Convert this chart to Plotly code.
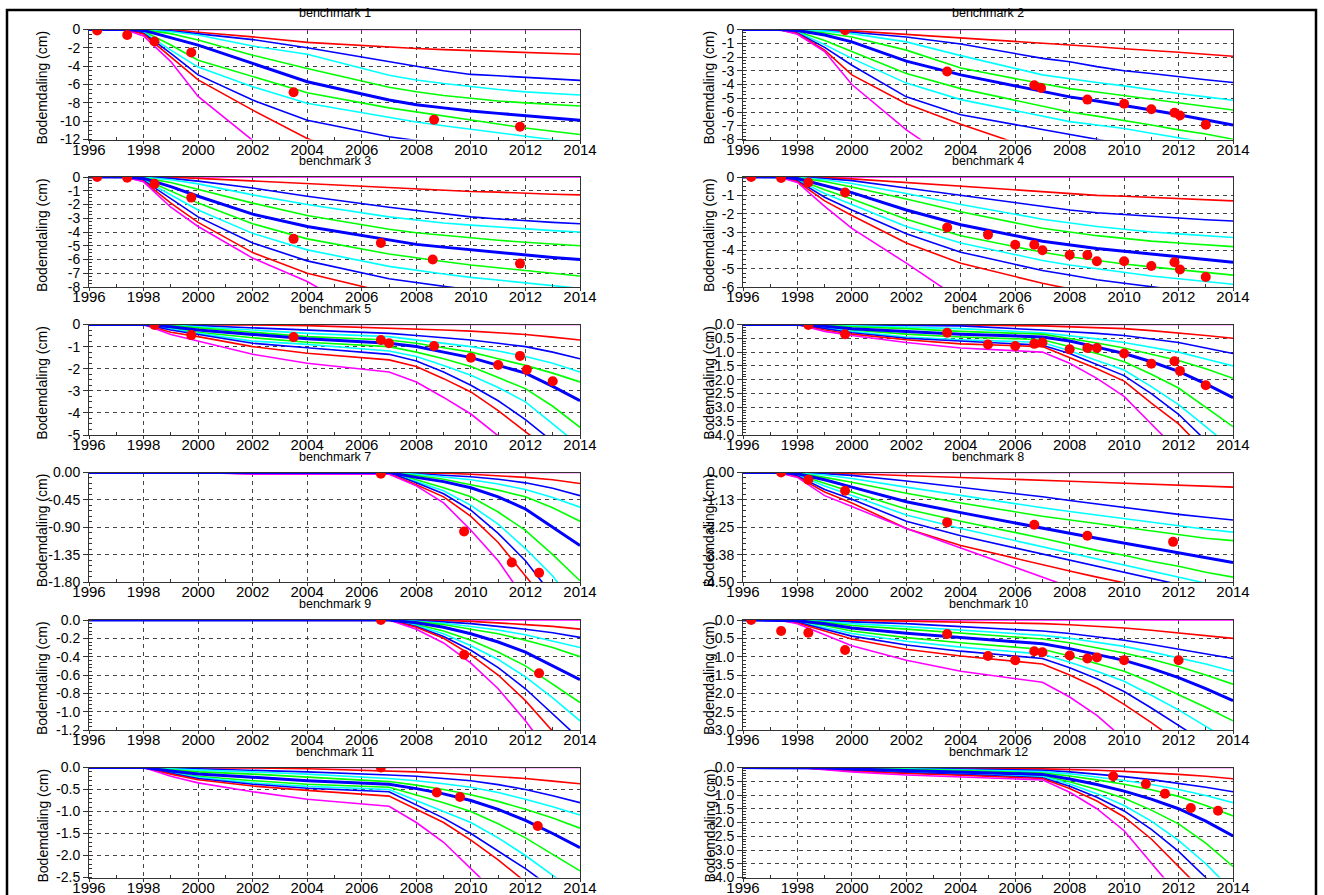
import plotly.graph_objects as go
from plotly.subplots import make_subplots
import numpy as np

# ---------------- DATA ----------------
years = [1996, 1997.3, 1998, 1999, 2000, 2002, 2004, 2007, 2008, 2009, 2010, 2011, 2012, 2013, 2014]
zero_line = [0, 0, 0, 0, 0, 0, 0, 0, 0, 0, 0, 0, 0, 0, 0]

# line order: red, blue, cyan, green, blue(thick/median), green, cyan, blue, red, magenta
bm1_lines = [
    [0, 0, 0, 0, -0.3, -0.8, -1.4, -1.95, -2.07, -2.2, -2.3, -2.4, -2.5, -2.6, -2.7],
    [0, 0, 0, -0.15, -0.45, -1.1, -2.0, -3.55, -4.0, -4.5, -4.9, -5.05, -5.2, -5.4, -5.55],
    [0, 0, -0.05, -0.25, -0.6, -1.8, -2.7, -5.0, -5.5, -5.9, -6.25, -6.55, -6.8, -7.0, -7.15],
    [0, 0, -0.05, -0.45, -1.15, -2.8, -4.25, -6.3, -6.8, -7.2, -7.5, -7.8, -8.0, -8.2, -8.35],
    [0, 0, -0.1, -0.9, -1.7, -3.7, -5.7, -7.7, -8.2, -8.55, -8.9, -9.15, -9.4, -9.65, -9.9],
    [0, 0, -0.2, -1.7, -3.35, -5.15, -6.9, -8.55, -9.0, -9.45, -9.9, -10.35, -10.75, -11.1, -11.45],
    [0, 0, -0.3, -2.25, -4.1, -6.25, -8.05, -9.6, -10.1, -10.5, -10.9, -11.3, -11.7, -12.05, -12.4],
    [0, 0, -0.4, -2.6, -4.95, -7.7, -9.9, -11.7, -12.1, -12.45, -12.8, -13.1, -13.4, -13.7, -14.0],
    [0, 0, -0.5, -3.0, -5.5, -8.8, -11.9, -14.9, -15.5, -16.0, -16.5, -17.0, -17.5, -18.0, -18.5],
    [0, 0, -0.7, -3.5, -7.3, -12.1, -16.0, -20.0, -21.0, -22.0, -23.0, -24.0, -25.0, -26.0, -27.0],
]
bm1_obs_t = [1996.3, 1997.4, 1998.4, 1999.75, 2003.5, 2008.65, 2011.8]
bm1_obs_v = [-0.1, -0.6, -1.3, -2.5, -6.85, -9.85, -10.6]

bm2_lines = [
    [0, 0, 0, -0.02, -0.1, -0.35, -0.6, -0.95, -1.1, -1.25, -1.4, -1.5, -1.65, -1.8, -1.95],
    [0, 0, 0, -0.08, -0.2, -0.55, -1.05, -2.1, -2.35, -2.7, -3.0, -3.2, -3.45, -3.65, -3.85],
    [0, 0, -0.02, -0.12, -0.3, -0.9, -1.9, -3.3, -3.6, -3.85, -4.1, -4.4, -4.65, -4.9, -5.15],
    [0, 0, -0.05, -0.25, -0.55, -1.5, -2.8, -3.95, -4.3, -4.55, -4.8, -5.05, -5.3, -5.55, -5.85],
    [0, 0, -0.08, -0.4, -0.9, -2.3, -3.3, -4.5, -4.9, -5.2, -5.5, -5.85, -6.2, -6.55, -6.95],
    [0, 0, -0.15, -0.8, -1.6, -3.2, -4.3, -5.6, -6.0, -6.3, -6.6, -6.95, -7.3, -7.6, -7.98],
    [0, 0, -0.2, -1.1, -2.1, -3.9, -5.1, -6.3, -6.7, -6.95, -7.2, -7.55, -7.9, -8.2, -8.5],
    [0, 0, -0.25, -1.3, -2.6, -4.9, -6.2, -7.3, -7.7, -8.05, -8.4, -8.7, -9.0, -9.25, -9.5],
    [0, 0, -0.3, -1.5, -3.3, -5.4, -6.9, -8.9, -9.4, -9.9, -10.4, -10.8, -11.2, -11.6, -12.0],
    [0, 0, -0.35, -1.6, -4.0, -7.3, -10.0, -13.0, -14.0, -15.0, -16.0, -17.0, -18.0, -19.0, -20.0],
]
bm2_obs_t = [1999.75, 2003.5, 2006.7, 2006.95, 2008.65, 2010.0, 2011.0, 2011.85, 2012.05, 2013.0]
bm2_obs_v = [-0.05, -3.05, -4.05, -4.25, -5.1, -5.4, -5.8, -6.05, -6.25, -6.92]

bm3_lines = [
    [0, 0, 0, -0.02, -0.1, -0.3, -0.5, -0.8, -0.9, -1.0, -1.05, -1.1, -1.2, -1.25, -1.3],
    [0, 0, 0, -0.1, -0.3, -0.8, -1.4, -2.2, -2.45, -2.7, -2.9, -3.05, -3.2, -3.3, -3.4],
    [0, 0, -0.02, -0.2, -0.5, -1.3, -2.0, -2.9, -3.15, -3.35, -3.5, -3.65, -3.8, -3.9, -4.0],
    [0, 0, -0.05, -0.4, -0.9, -1.9, -2.8, -3.8, -4.05, -4.25, -4.45, -4.6, -4.75, -4.9, -5.0],
    [0, 0, -0.1, -0.7, -1.4, -2.7, -3.6, -4.6, -4.9, -5.1, -5.3, -5.5, -5.65, -5.85, -6.0],
    [0, 0, -0.15, -1.0, -1.9, -3.4, -4.5, -5.6, -5.9, -6.15, -6.4, -6.6, -6.8, -7.0, -7.2],
    [0, 0, -0.2, -1.3, -2.4, -4.1, -5.3, -6.5, -6.8, -7.05, -7.3, -7.5, -7.7, -7.9, -8.1],
    [0, 0, -0.25, -1.6, -2.9, -4.8, -6.1, -7.4, -7.7, -7.95, -8.2, -8.45, -8.7, -8.9, -9.1],
    [0, 0, -0.3, -1.9, -3.3, -5.5, -7.0, -8.5, -8.9, -9.2, -9.5, -9.8, -10.1, -10.4, -10.7],
    [0, 0, -0.35, -2.2, -3.6, -5.9, -7.6, -11.0, -11.6, -12.2, -12.8, -13.4, -14.0, -14.6, -15.2],
]
bm3_obs_t = [1996.3, 1997.4, 1998.4, 1999.75, 2003.5, 2006.7, 2008.6, 2011.8]
bm3_obs_v = [0.0, -0.05, -0.5, -1.5, -4.5, -4.8, -6.0, -6.3]

bm4_lines = [
    [0, 0, 0, -0.02, -0.1, -0.3, -0.5, -0.8, -0.9, -1.0, -1.05, -1.12, -1.2, -1.25, -1.3],
    [0, 0, 0, -0.08, -0.2, -0.6, -1.0, -1.6, -1.8, -1.95, -2.05, -2.15, -2.25, -2.33, -2.4],
    [0, 0, -0.02, -0.15, -0.35, -0.9, -1.5, -2.3, -2.5, -2.7, -2.85, -3.0, -3.1, -3.2, -3.3],
    [0, 0, -0.04, -0.25, -0.55, -1.2, -1.9, -2.8, -3.0, -3.2, -3.35, -3.5, -3.6, -3.7, -3.8],
    [0, 0, -0.08, -0.45, -0.85, -1.8, -2.6, -3.5, -3.7, -3.9, -4.05, -4.2, -4.35, -4.5, -4.65],
    [0, 0, -0.12, -0.7, -1.2, -2.3, -3.2, -4.1, -4.35, -4.55, -4.75, -4.9, -5.05, -5.2, -5.35],
    [0, 0, -0.15, -0.9, -1.5, -2.7, -3.6, -4.55, -4.8, -5.0, -5.2, -5.4, -5.55, -5.7, -5.85],
    [0, 0, -0.2, -1.1, -1.8, -3.1, -4.1, -5.1, -5.35, -5.6, -5.8, -6.0, -6.2, -6.35, -6.5],
    [0, 0, -0.25, -1.3, -2.1, -3.6, -4.7, -5.8, -6.1, -6.35, -6.6, -6.85, -7.1, -7.3, -7.5],
    [0, 0, -0.3, -1.6, -2.8, -4.7, -6.7, -8.8, -9.4, -10.0, -10.6, -11.2, -11.8, -12.4, -13.0],
]
bm4_obs_t = [1996.3, 1997.4, 1998.4, 1999.75, 2003.5, 2005.0, 2006.0, 2006.7, 2007.0, 2008.0, 2008.65,
             2009.0, 2010.0, 2011.0, 2011.85, 2012.05, 2013.0]
bm4_obs_v = [0.0, -0.05, -0.3, -0.85, -2.75, -3.15, -3.7, -3.7, -4.0, -4.25, -4.25,
             -4.6, -4.6, -4.85, -4.65, -5.05, -5.45]

bm5_lines = [
    [0, 0, 0, 0, 0, -0.02, -0.05, -0.15, -0.2, -0.25, -0.3, -0.37, -0.45, -0.57, -0.7],
    [0, 0, 0, -0.02, -0.05, -0.15, -0.25, -0.4, -0.5, -0.6, -0.7, -0.85, -1.0, -1.25, -1.55],
    [0, 0, 0, -0.03, -0.1, -0.25, -0.4, -0.55, -0.7, -0.85, -1.0, -1.2, -1.45, -1.75, -2.15],
    [0, 0, 0, -0.05, -0.15, -0.35, -0.55, -0.7, -0.85, -1.05, -1.25, -1.55, -1.85, -2.2, -2.6],
    [0, 0, 0, -0.1, -0.25, -0.45, -0.65, -0.85, -1.0, -1.25, -1.5, -1.85, -2.2, -2.8, -3.45],
    [0, 0, 0, -0.15, -0.35, -0.6, -0.8, -1.0, -1.25, -1.55, -1.9, -2.4, -2.9, -3.7, -4.65],
    [0, 0, 0, -0.2, -0.4, -0.75, -0.9, -1.2, -1.45, -1.85, -2.3, -2.85, -3.5, -4.5, -5.5],
    [0, 0, 0, -0.25, -0.45, -0.85, -1.05, -1.35, -1.65, -2.15, -2.75, -3.45, -4.3, -5.3, -6.3],
    [0, 0, 0, -0.35, -0.55, -1.0, -1.3, -1.6, -1.9, -2.45, -3.05, -3.9, -4.8, -5.8, -6.8],
    [0, 0, 0, -0.45, -0.75, -1.35, -1.75, -2.15, -2.6, -3.3, -4.05, -5.0, -6.0, -7.0, -8.0],
]
bm5_obs_t = [1998.4, 1999.75, 2003.5, 2006.7, 2007.0, 2008.65, 2010.0, 2011.0, 2011.8, 2012.05, 2013.0]
bm5_obs_v = [-0.02, -0.48, -0.57, -0.7, -0.85, -0.97, -1.5, -1.83, -1.42, -2.05, -2.57]

bm6_lines = [
    [0, 0, 0, 0, 0, 0, -0.02, -0.05, -0.08, -0.11, -0.15, -0.22, -0.3, -0.4, -0.5],
    [0, 0, 0, 0, -0.02, -0.03, -0.05, -0.2, -0.25, -0.32, -0.4, -0.52, -0.65, -0.85, -1.05],
    [0, 0, 0, -0.02, -0.05, -0.1, -0.15, -0.3, -0.4, -0.52, -0.65, -0.82, -1.0, -1.25, -1.5],
    [0, 0, 0, -0.03, -0.08, -0.15, -0.25, -0.35, -0.5, -0.67, -0.85, -1.07, -1.3, -1.6, -1.95],
    [0, 0, 0, -0.06, -0.15, -0.25, -0.35, -0.45, -0.6, -0.82, -1.05, -1.35, -1.7, -2.15, -2.65],
    [0, 0, 0, -0.1, -0.2, -0.35, -0.45, -0.55, -0.8, -1.05, -1.35, -1.8, -2.3, -3.0, -3.7],
    [0, 0, 0, -0.12, -0.25, -0.45, -0.55, -0.65, -0.95, -1.3, -1.65, -2.25, -2.9, -3.7, -4.5],
    [0, 0, 0, -0.15, -0.3, -0.5, -0.6, -0.75, -1.05, -1.45, -1.85, -2.5, -3.25, -4.2, -5.1],
    [0, 0, 0, -0.2, -0.35, -0.55, -0.7, -0.8, -1.2, -1.6, -2.05, -2.85, -3.6, -4.6, -5.6],
    [0, 0, 0, -0.25, -0.4, -0.65, -0.85, -1.0, -1.4, -1.95, -2.6, -3.6, -4.6, -5.6, -6.6],
]
bm6_obs_t = [1998.4, 1999.75, 2003.5, 2005.0, 2006.0, 2006.7, 2007.0, 2008.0, 2008.65, 2009.0, 2010.0,
             2011.0, 2011.85, 2012.05, 2013.0]
bm6_obs_v = [-0.02, -0.35, -0.3, -0.72, -0.78, -0.7, -0.65, -0.9, -0.85, -0.85, -1.05,
             -1.42, -1.33, -1.68, -2.2]

bm7_lines = [
    [0, 0, 0, 0, 0, 0, 0, 0, 0, -0.01, -0.03, -0.05, -0.08, -0.12, -0.18],
    [0, 0, 0, 0, 0, 0, 0, 0, -0.02, -0.04, -0.07, -0.11, -0.17, -0.26, -0.38],
    [0, 0, 0, 0, 0, 0, 0, 0, -0.03, -0.07, -0.12, -0.19, -0.28, -0.41, -0.57],
    [0, 0, 0, 0, 0, 0, 0, 0, -0.05, -0.11, -0.2, -0.29, -0.4, -0.58, -0.8],
    [0, 0, 0, 0, 0, 0, 0, 0, -0.08, -0.15, -0.25, -0.4, -0.6, -0.9, -1.2],
    [0, 0, 0, 0, 0, 0, 0, 0, -0.12, -0.25, -0.4, -0.65, -0.95, -1.35, -1.78],
    [0, 0, 0, 0, 0, 0, 0, 0, -0.15, -0.3, -0.54, -0.85, -1.25, -1.7, -2.3],
    [0, 0, 0, 0, 0, 0, 0, 0, -0.17, -0.35, -0.62, -1.0, -1.45, -2.0, -2.6],
    [0, 0, 0, 0, 0, -0.02, -0.02, -0.02, -0.2, -0.4, -0.72, -1.15, -1.7, -2.2, -2.8],
    [0, 0, 0, 0, 0, -0.03, -0.03, -0.03, -0.22, -0.5, -0.95, -1.45, -2.1, -2.8, -3.5],
]
bm7_obs_t = [2006.7, 2009.75, 2011.5, 2012.5]
bm7_obs_v = [-0.02, -0.97, -1.48, -1.65]

bm8_lines = [
    [0, 0, 0, -0.02, -0.05, -0.12, -0.2, -0.32, -0.36, -0.4, -0.44, -0.48, -0.52, -0.57, -0.6],
    [0, 0, 0, -0.05, -0.12, -0.35, -0.6, -1.0, -1.15, -1.3, -1.45, -1.6, -1.72, -1.84, -1.95],
    [0, 0, -0.02, -0.1, -0.25, -0.6, -0.95, -1.45, -1.6, -1.75, -1.9, -2.05, -2.2, -2.33, -2.45],
    [0, 0, -0.03, -0.2, -0.4, -0.85, -1.25, -1.8, -1.95, -2.1, -2.25, -2.4, -2.55, -2.7, -2.8],
    [0, 0, -0.05, -0.3, -0.6, -1.2, -1.65, -2.3, -2.5, -2.7, -2.9, -3.1, -3.3, -3.5, -3.7],
    [0, 0, -0.08, -0.45, -0.8, -1.5, -2.0, -2.7, -2.95, -3.2, -3.4, -3.65, -3.85, -4.1, -4.3],
    [0, 0, -0.1, -0.55, -0.95, -1.75, -2.3, -3.05, -3.3, -3.55, -3.8, -4.05, -4.3, -4.55, -4.8],
    [0, 0, -0.14, -0.7, -1.1, -2.0, -2.6, -3.35, -3.6, -3.85, -4.1, -4.35, -4.6, -4.85, -5.1],
    [0, 0, -0.18, -0.8, -1.25, -2.3, -3.0, -3.8, -4.05, -4.3, -4.55, -4.8, -5.0, -5.2, -5.4],
    [0, 0, -0.2, -0.95, -1.4, -2.3, -3.1, -4.3, -4.7, -5.1, -5.5, -5.9, -6.3, -6.7, -7.1],
]
bm8_obs_t = [1997.4, 1998.4, 1999.75, 2003.5, 2006.7, 2008.65, 2011.8]
bm8_obs_v = [0.0, -0.3, -0.75, -2.05, -2.15, -2.6, -2.85]

bm9_lines = [
    [0, 0, 0, 0, 0, 0, 0, 0, 0, -0.005, -0.015, -0.03, -0.05, -0.07, -0.1],
    [0, 0, 0, 0, 0, 0, 0, 0, -0.01, -0.02, -0.04, -0.07, -0.1, -0.14, -0.19],
    [0, 0, 0, 0, 0, 0, 0, 0, -0.015, -0.035, -0.07, -0.11, -0.16, -0.23, -0.3],
    [0, 0, 0, 0, 0, 0, 0, 0, -0.02, -0.05, -0.1, -0.15, -0.22, -0.3, -0.4],
    [0, 0, 0, 0, 0, 0, 0, 0, -0.03, -0.08, -0.15, -0.24, -0.35, -0.5, -0.65],
    [0, 0, 0, 0, 0, 0, 0, 0, -0.05, -0.12, -0.22, -0.35, -0.5, -0.7, -0.9],
    [0, 0, 0, 0, 0, 0, 0, 0, -0.06, -0.15, -0.28, -0.43, -0.62, -0.85, -1.1],
    [0, 0, 0, 0, 0, 0, 0, 0, -0.07, -0.18, -0.33, -0.52, -0.75, -1.02, -1.3],
    [0, 0, 0, 0, 0, 0, 0, 0, -0.08, -0.2, -0.38, -0.6, -0.88, -1.2, -1.55],
    [0, 0, 0, 0, 0, 0, 0, 0, -0.1, -0.25, -0.47, -0.75, -1.1, -1.5, -1.9],
]
bm9_obs_t = [2006.7, 2009.75, 2012.5]
bm9_obs_v = [0.0, -0.38, -0.58]

bm10_lines = [
    [0, 0, 0, 0, -0.01, -0.03, -0.05, -0.1, -0.13, -0.17, -0.22, -0.28, -0.35, -0.42, -0.5],
    [0, 0, 0, -0.02, -0.05, -0.1, -0.18, -0.3, -0.37, -0.45, -0.55, -0.67, -0.8, -0.92, -1.05],
    [0, 0, 0, -0.04, -0.1, -0.18, -0.28, -0.42, -0.5, -0.6, -0.72, -0.87, -1.03, -1.2, -1.4],
    [0, 0, 0, -0.06, -0.15, -0.25, -0.36, -0.52, -0.62, -0.75, -0.9, -1.07, -1.27, -1.5, -1.75],
    [0, 0, -0.02, -0.1, -0.22, -0.36, -0.48, -0.65, -0.78, -0.93, -1.1, -1.32, -1.57, -1.87, -2.2],
    [0, 0, -0.04, -0.15, -0.3, -0.48, -0.62, -0.8, -0.98, -1.18, -1.4, -1.7, -2.03, -2.38, -2.75],
    [0, 0, -0.05, -0.2, -0.37, -0.58, -0.74, -0.93, -1.15, -1.4, -1.67, -2.05, -2.45, -2.9, -3.35],
    [0, 0, -0.06, -0.25, -0.44, -0.68, -0.85, -1.05, -1.3, -1.6, -1.95, -2.4, -2.85, -3.35, -3.85],
    [0, 0, -0.08, -0.3, -0.52, -0.8, -0.98, -1.2, -1.5, -1.85, -2.3, -2.8, -3.3, -3.85, -4.4],
    [0, 0, -0.1, -0.4, -0.7, -1.1, -1.4, -1.7, -2.1, -2.6, -3.2, -3.85, -4.5, -5.2, -5.9],
]
bm10_obs_t = [1996.3, 1997.4, 1998.4, 1999.75, 2003.5, 2005.0, 2006.0, 2006.7, 2007.0, 2008.0, 2008.65,
              2009.0, 2010.0, 2012.0]
bm10_obs_v = [0.0, -0.3, -0.35, -0.82, -0.38, -0.98, -1.1, -0.85, -0.88, -0.97, -1.05,
              -1.02, -1.1, -1.1]

bm11_lines = [
    [0, 0, 0, 0, 0, -0.01, -0.03, -0.07, -0.1, -0.13, -0.17, -0.21, -0.25, -0.31, -0.37],
    [0, 0, 0, -0.01, -0.03, -0.06, -0.1, -0.17, -0.2, -0.25, -0.3, -0.39, -0.5, -0.64, -0.8],
    [0, 0, 0, -0.03, -0.06, -0.1, -0.15, -0.25, -0.3, -0.37, -0.45, -0.57, -0.72, -0.89, -1.08],
    [0, 0, 0, -0.05, -0.1, -0.15, -0.22, -0.32, -0.4, -0.5, -0.62, -0.77, -0.95, -1.15, -1.38],
    [0, 0, 0, -0.08, -0.15, -0.22, -0.3, -0.38, -0.48, -0.6, -0.75, -0.95, -1.2, -1.5, -1.82],
    [0, 0, 0, -0.1, -0.2, -0.3, -0.38, -0.45, -0.62, -0.8, -1.0, -1.28, -1.6, -1.97, -2.35],
    [0, 0, 0, -0.12, -0.22, -0.35, -0.43, -0.5, -0.75, -1.0, -1.25, -1.6, -2.0, -2.45, -2.9],
    [0, 0, 0, -0.13, -0.25, -0.38, -0.47, -0.55, -0.85, -1.15, -1.5, -1.9, -2.3, -2.75, -3.2],
    [0, 0, 0, -0.15, -0.28, -0.42, -0.52, -0.65, -0.95, -1.25, -1.65, -2.1, -2.6, -3.1, -3.6],
    [0, 0, 0, -0.2, -0.35, -0.55, -0.72, -0.88, -1.25, -1.7, -2.3, -2.9, -3.5, -4.1, -4.7],
]
bm11_obs_t = [2006.7, 2008.75, 2009.6, 2012.45]
bm11_obs_v = [0.0, -0.57, -0.67, -1.33]

bm12_lines = [
    [0, 0, 0, 0, 0, -0.01, -0.02, -0.05, -0.07, -0.1, -0.14, -0.19, -0.25, -0.32, -0.41],
    [0, 0, 0, 0, -0.01, -0.03, -0.05, -0.1, -0.16, -0.24, -0.33, -0.44, -0.57, -0.72, -0.88],
    [0, 0, 0, 0, -0.02, -0.05, -0.08, -0.15, -0.23, -0.34, -0.47, -0.62, -0.8, -1.02, -1.28],
    [0, 0, 0, -0.01, -0.03, -0.07, -0.11, -0.2, -0.31, -0.45, -0.61, -0.81, -1.05, -1.38, -1.76],
    [0, 0, 0, -0.02, -0.05, -0.1, -0.15, -0.25, -0.42, -0.62, -0.86, -1.15, -1.5, -1.95, -2.49],
    [0, 0, 0, -0.03, -0.07, -0.13, -0.19, -0.3, -0.52, -0.8, -1.12, -1.55, -2.05, -2.75, -3.6],
    [0, 0, 0, -0.04, -0.09, -0.16, -0.22, -0.33, -0.6, -0.95, -1.38, -1.95, -2.65, -3.5, -4.5],
    [0, 0, 0, -0.05, -0.11, -0.19, -0.25, -0.37, -0.68, -1.08, -1.58, -2.25, -3.05, -4.0, -5.0],
    [0, 0, 0, -0.06, -0.13, -0.22, -0.28, -0.4, -0.76, -1.22, -1.8, -2.6, -3.6, -4.6, -5.6],
    [0, 0, 0, -0.08, -0.16, -0.27, -0.34, -0.45, -0.9, -1.5, -2.3, -3.4, -4.6, -5.8, -7.0],
]
bm12_obs_t = [2009.6, 2010.8, 2011.5, 2012.45, 2013.45]
bm12_obs_v = [-0.32, -0.6, -0.95, -1.47, -1.57]

x_ticks = [1996, 1998, 2000, 2002, 2004, 2006, 2008, 2010, 2012, 2014]
x_ticklabels = ["1996", "1998", "2000", "2002", "2004", "2006", "2008", "2010", "2012", "2014"]

y_ticks = [
    [0, -2, -4, -6, -8, -10, -12],
    [0, -1, -2, -3, -4, -5, -6, -7, -8],
    [0, -1, -2, -3, -4, -5, -6, -7, -8],
    [0, -1, -2, -3, -4, -5, -6],
    [0, -1, -2, -3, -4, -5],
    [0, -0.5, -1.0, -1.5, -2.0, -2.5, -3.0, -3.5, -4.0],
    [0, -0.45, -0.9, -1.35, -1.8],
    [0, -1.125, -2.25, -3.375, -4.5],
    [0, -0.2, -0.4, -0.6, -0.8, -1.0, -1.2],
    [0, -0.5, -1.0, -1.5, -2.0, -2.5, -3.0],
    [0, -0.5, -1.0, -1.5, -2.0, -2.5],
    [0, -0.5, -1.0, -1.5, -2.0, -2.5, -3.0, -3.5, -4.0],
]
y_ticklabels = [
    ["0", "-2", "-4", "-6", "-8", "-10", "-12"],
    ["0", "-1", "-2", "-3", "-4", "-5", "-6", "-7", "-8"],
    ["0", "-1", "-2", "-3", "-4", "-5", "-6", "-7", "-8"],
    ["0", "-1", "-2", "-3", "-4", "-5", "-6"],
    ["0", "-1", "-2", "-3", "-4", "-5"],
    ["0.0", "-0.5", "-1.0", "-1.5", "-2.0", "-2.5", "-3.0", "-3.5", "-4.0"],
    ["0.00", "-0.45", "-0.90", "-1.35", "-1.80"],
    ["0.00", "-1.13", "-2.25", "-3.38", "-4.50"],
    ["0.0", "-0.2", "-0.4", "-0.6", "-0.8", "-1.0", "-1.2"],
    ["0.0", "-0.5", "-1.0", "-1.5", "-2.0", "-2.5", "-3.0"],
    ["0.0", "-0.5", "-1.0", "-1.5", "-2.0", "-2.5"],
    ["0.0", "-0.5", "-1.0", "-1.5", "-2.0", "-2.5", "-3.0", "-3.5", "-4.0"],
]
titles = ["benchmark 1", "benchmark 2", "benchmark 3", "benchmark 4", "benchmark 5", "benchmark 6",
          "benchmark 7", "benchmark 8", "benchmark 9", "benchmark 10", "benchmark 11", "benchmark 12"]
y_label = "Bodemdaling (cm)"

all_lines = [bm1_lines, bm2_lines, bm3_lines, bm4_lines, bm5_lines, bm6_lines,
             bm7_lines, bm8_lines, bm9_lines, bm10_lines, bm11_lines, bm12_lines]
all_obs_t = [bm1_obs_t, bm2_obs_t, bm3_obs_t, bm4_obs_t, bm5_obs_t, bm6_obs_t,
             bm7_obs_t, bm8_obs_t, bm9_obs_t, bm10_obs_t, bm11_obs_t, bm12_obs_t]
all_obs_v = [bm1_obs_v, bm2_obs_v, bm3_obs_v, bm4_obs_v, bm5_obs_v, bm6_obs_v,
             bm7_obs_v, bm8_obs_v, bm9_obs_v, bm10_obs_v, bm11_obs_v, bm12_obs_v]

# ---------------- STYLE / LAYOUT ----------------
W, H = 1324, 895
RED, BLUE, CYAN, GREEN, MAG = "#FF0000", "#0000FF", "#00FFFF", "#00FF00", "#FF00FF"
line_colors = [RED, BLUE, CYAN, GREEN, BLUE, GREEN, CYAN, BLUE, RED, MAG]
line_widths = [1.6, 1.6, 1.6, 1.6, 3, 1.6, 1.6, 1.6, 1.6, 1.6]
draw_order = [0, 1, 2, 3, 5, 6, 7, 8, 9, 4]  # thick median on top

col_px = [(89, 580), (743, 1233)]
row_px = [(29.5, 139.5), (177, 287), (324.5, 435), (472.5, 582), (620, 730), (767.5, 877.5)]
ytitle_x = [42, 709]
FONT = "Liberation Sans, Arial, sans-serif"

fig = make_subplots(rows=6, cols=2)

for i in range(12):
    r, c = i // 2 + 1, i % 2 + 1
    fig.add_trace(go.Scatter(x=years, y=zero_line, mode="lines",
                             line=dict(color=MAG, width=1.6), showlegend=False,
                             hoverinfo="skip"), row=r, col=c)
    for k in draw_order:
        fig.add_trace(go.Scatter(x=years, y=all_lines[i][k], mode="lines",
                                 line=dict(color=line_colors[k], width=line_widths[k]),
                                 showlegend=False), row=r, col=c)
    fig.add_trace(go.Scatter(x=all_obs_t[i], y=all_obs_v[i], mode="markers",
                             marker=dict(color=RED, size=10, line=dict(width=0)),
                             showlegend=False), row=r, col=c)

annotations = []
for i in range(12):
    r, c = i // 2, i % 2
    x0, x1 = col_px[c]
    y0, y1 = row_px[r]
    xa = "xaxis" if i == 0 else f"xaxis{i+1}"
    ya = "yaxis" if i == 0 else f"yaxis{i+1}"
    yt = y_ticks[i]
    ymin = min(yt)
    step = abs(yt[1] - yt[0])
    nsub = 5 if len(y_ticklabels[i][0]) > 1 else 4
    minor_y = list(np.arange(0, ymin - 1e-9, -step / nsub))
    fig.layout[xa].update(
        domain=[x0 / W, x1 / W], range=[1996, 2014], automargin=False,
        tickvals=x_ticks, ticktext=x_ticklabels, ticks="outside", ticklen=3,
        ticklabelstandoff=-7,
        tickcolor="#333", tickfont=dict(family=FONT, size=15, color="black"),
        showgrid=True, gridcolor="#444", griddash="4px,4px", gridwidth=1,
        showline=True, linecolor="#333", linewidth=1, mirror=True, zeroline=False,
        minor=dict(tickvals=list(range(1997, 2014, 2)), ticks="inside", ticklen=3,
                   tickcolor="#333", showgrid=False),
    )
    fig.layout[ya].update(
        domain=[1 - y1 / H, 1 - y0 / H], range=[ymin, 0], automargin=False,
        tickvals=yt, ticktext=y_ticklabels[i], ticks="outside", ticklen=5,
        tickcolor="#333", tickfont=dict(family=FONT, size=14, color="black"),
        showgrid=True, gridcolor="#444", griddash="4px,4px", gridwidth=1,
        showline=True, linecolor="#333", linewidth=1, mirror=True, zeroline=False,
        minor=dict(tickvals=minor_y, ticks="inside", ticklen=3, tickcolor="#333",
                   showgrid=False),
    )
    annotations.append(dict(text=titles[i], xref="paper", yref="paper",
                            x=(x0 + x1) / 2 / W, y=1 - (y0 - 16) / H,
                            xanchor="center", yanchor="middle", showarrow=False,
                            font=dict(family=FONT, size=12.5, color="black")))
    annotations.append(dict(text=y_label, xref="paper", yref="paper",
                            x=ytitle_x[c] / W, y=1 - ((y0 + y1) / 2 + 3) / H,
                            xanchor="center", yanchor="middle", textangle=-90,
                            showarrow=False,
                            font=dict(family=FONT, size=14, color="black")))

fig.update_layout(
    template="none",
    width=W, height=H, margin=dict(l=0, r=0, t=0, b=0, pad=0),
    paper_bgcolor="white", plot_bgcolor="white",
    annotations=annotations,
    shapes=[dict(type="rect", xref="paper", yref="paper",
                 x0=7 / W, x1=1316 / W, y0=-0.05, y1=1 - 10 / H,
                 line=dict(color="black", width=2.5), fillcolor="rgba(0,0,0,0)",
                 layer="above")],
)

fig.write_html("out.html", config={"displayModeBar": False},
               post_script="document.body.style.margin='0px';document.body.style.overflow='hidden';")
